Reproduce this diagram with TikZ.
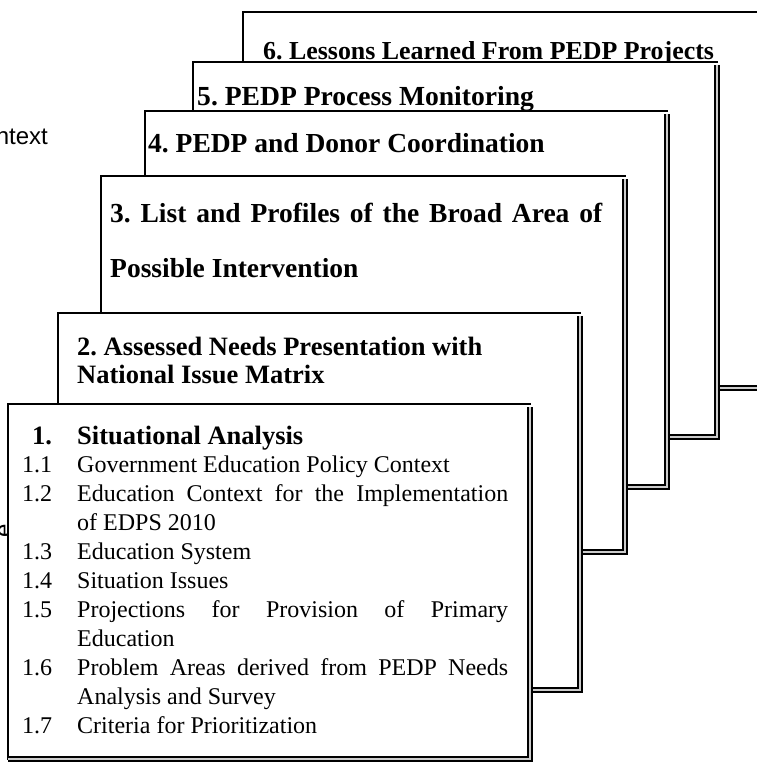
\documentclass[tikz,border=0pt]{standalone}
\usepackage{fontspec}
\setmainfont{Liberation Serif}
\newfontfamily\arialfont{Liberation Sans}
\frenchspacing
\begin{document}
\begin{tikzpicture}[x=1pt,y=-1pt,
  sheet/.style={fill=white, inner sep=0pt, outer sep=0pt, anchor=north west},
  rim/.style={line width=1.6pt, line cap=rect},
  shade/.style={line width=1.7pt, double=gray!40, double distance=2.2pt},
  head/.style={font=\fontsize{#1}{30}\selectfont\bfseries, anchor=base west, inner sep=0pt},
  head/.default=26.5,
  item/.style={font=\fontsize{24}{28}\selectfont, anchor=base west, inner sep=0pt},
  stray/.style={font=\arialfont\fontsize{24}{28}\selectfont, inner sep=0pt},
]
\useasboundingbox[fill=white] (0,0) rectangle (756,762);

% loose text fragments at the left margin
\node[stray, anchor=base east] (frag1) at (48,145) {ntext};
\node[stray, rotate=90] (frag2) at (5,531) {e};

% sheet 6 (rearmost)
\node[sheet, minimum width=524pt, minimum height=376pt] (s6) at (243,12) {};
\draw[rim] (s6.south west) -- (s6.north west) -- (s6.north east);
\draw[shade] ([yshift=-3pt]s6.north east) -- (s6.south east) -- (s6.south west);
\node[head=25.9] (h6) at (263,60) {6. Lessons Learned From PEDP Projects};

% sheet 5
\node[sheet, minimum width=524pt, minimum height=375pt] (s5) at (193,62) {};
\draw[rim] (s5.south west) -- (s5.north west) -- (s5.north east);
\draw[shade] ([yshift=-3pt]s5.north east) -- (s5.south east) -- (s5.south west);
\node[head=27.6] (h5) at (197,106) {5. PEDP Process Monitoring};

% sheet 4
\node[sheet, minimum width=522pt, minimum height=376pt] (s4) at (145,111) {};
\draw[rim] (s4.south west) -- (s4.north west) -- (s4.north east);
\draw[shade] ([yshift=-3pt]s4.north east) -- (s4.south east) -- (s4.south west);
\node[head=27.5] (h4) at (148,153) {4. PEDP and Donor Coordination};

% sheet 3
\node[sheet, minimum width=524pt, minimum height=376pt] (s3) at (101,176) {};
\draw[rim] (s3.south west) -- (s3.north west) -- (s3.north east);
\draw[shade] ([yshift=-3pt]s3.north east) -- (s3.south east) -- (s3.south west);
\node[head=27.5] (h3a) at (110,222) {\makebox[492pt][s]{3. List and Profiles of the Broad Area of}};
\node[head=27.5] (h3b) at (110,277) {Possible Intervention};

% sheet 2
\node[sheet, minimum width=522pt, minimum height=377pt] (s2) at (58,313) {};
\draw[rim] (s2.south west) -- (s2.north west) -- (s2.north east);
\draw[shade] ([yshift=-3pt]s2.north east) -- (s2.south east) -- (s2.south west);
\node[head] (h2a) at (77,355) {2. Assessed Needs Presentation with};
\node[head] (h2b) at (77,383) {National Issue Matrix};

% sheet 1 (front)
\node[sheet, minimum width=522pt, minimum height=355pt] (s1) at (8,404) {};
\draw[rim] (s1.south west) -- (s1.north west) -- (s1.north east);
\draw[shade] ([yshift=-3pt]s1.north east) -- (s1.south east) -- (s1.south west);
\node[head] (n1) at (32,444) {1.};
\node[head] (h1) at (77,444) {Situational Analysis};

\node[item] (n11) at (22,472) {1.1};
\node[item] (t11) at (77,472) {Government Education Policy Context};
\node[item] (n12) at (22,501) {1.2};
\node[item] (t12) at (77,501) {\makebox[431pt][s]{Education Context for the Implementation}};
\node[item] (t12b) at (77,530) {of EDPS 2010};
\node[item] (n13) at (22,559) {1.3};
\node[item] (t13) at (77,559) {Education System};
\node[item] (n14) at (22,588) {1.4};
\node[item] (t14) at (77,588) {Situation Issues};
\node[item] (n15) at (22,617) {1.5};
\node[item] (t15) at (77,617) {\makebox[431pt][s]{Projections for Provision of Primary}};
\node[item] (t15b) at (77,646) {Education};
\node[item] (n16) at (22,675) {1.6};
\node[item] (t16) at (77,675) {\makebox[431pt][s]{Problem Areas derived from PEDP Needs}};
\node[item] (t16b) at (77,704) {Analysis and Survey};
\node[item] (n17) at (22,733) {1.7};
\node[item] (t17) at (77,733) {Criteria for Prioritization};
\end{tikzpicture}
\end{document}
